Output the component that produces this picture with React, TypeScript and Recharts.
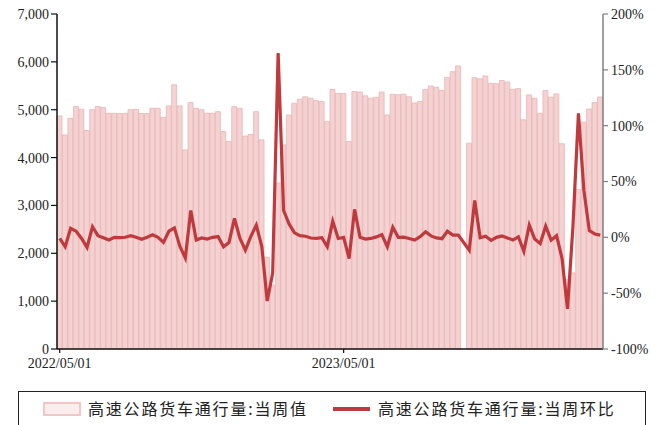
import { Bar, ComposedChart, Legend, Line, XAxis, YAxis } from "recharts";

// 高速公路货车通行量, weekly, 2022/05/01 onwards
const volume: (number | null)[] = [
  4870, 4470, 4820, 5065, 5010, 4565, 5000, 5065, 5045, 4925,
  4925, 4920, 4925, 5000, 5005, 4920, 4920, 5030, 5030, 4840,
  5080, 5520, 5080, 4160, 5150, 5030, 5000, 4925, 4925, 4960,
  4545, 4335, 5065, 5030, 4450, 4485, 4960, 4370, 1920, 1340,
  3470, 4265, 4890, 5135, 5220, 5270, 5240, 5190, 5170, 4750,
  5425, 5340, 5340, 4335, 5380, 5370, 5290, 5240, 5260, 5370,
  4890, 5320, 5315, 5325, 5270, 5140, 5170, 5425, 5495, 5470,
  5405, 5675, 5795, 5915, null, 4300, 5670, 5645, 5705, 5550,
  5545, 5610, 5580, 5425, 5440, 4790, 5310, 5240, 4925, 5400,
  5260, 5330, 4290, 1450, 1590, 3330, 4740, 5015, 5150, 5265,
];

// 当周环比, %
const wow: (number | null)[] = [
  -1, -8.5, 8, 5.5, -1, -9, 9.5, 1.5, -0.4, -2.4,
  0, -0.2, 0.1, 1.5, 0, -1.7, 0, 2.2, 0, -4.5,
  5.5, 8.5, -8, -18.5, 24, -2.4, -0.6, -1.5, 0, 0.7,
  -8.4, -4.6, 17, -0.7, -11.5, 0.8, 11, -8, -57, -32,
  165, 24, 12, 4, 1.5, 1, -0.6, -1, -0.4, -8.4,
  14.5, -1, 0, -19, 25, 0, -1.5, -1, 0.4, 2.5,
  -8.5, 9, 0, 0.2, -1, -2.4, 0.6, 5, 1.3, -0.5,
  -1.2, 5.5, 2, 2, null, -11.5, 33, -0.4, 1, -2.7,
  0, 1.2, -0.5, -2.4, 0.5, -12.5, 11, -1.5, -5.5, 10,
  -2.5, 1.5, -19, -64, 10, 111, 42, 6, 3, 2,
];

const xTicks = [0, 52];
const xTickLabels = ["2022/05/01", "2023/05/01"];
const leftTicks = [0, 1000, 2000, 3000, 4000, 5000, 6000, 7000];
const rightTicks = [-100, -50, 0, 50, 100, 150, 200];

const seriesNames = ["高速公路货车通行量:当周值", "高速公路货车通行量:当周环比"];

const data = volume.map((v, i) => ({ week: i, volume: v, wow: wow[i] }));

const serif = "'Liberation Serif', 'Times New Roman', serif";
const cjk = "'Noto Sans CJK SC', sans-serif";
const barFill = "#f4d2d2";
const barEdge = "#e9b5b5";
const lineColor = "#c0393c";

function LegendBox() {
  const text = { fontFamily: cjk, fontSize: 16, letterSpacing: 1.8, color: "#222" };
  return (
    <div
      style={{
        position: "absolute",
        left: 18,
        top: 391,
        width: 628,
        height: 60,
        border: "1.5px solid #222",
        boxSizing: "border-box",
      }}
    >
      <div style={{ position: "absolute", left: 24, top: 10, width: 34, height: 10, background: "#fbeded", border: "2px solid #f1c6c6" }} />
      <span style={{ ...text, position: "absolute", left: 69, top: 4, whiteSpace: "nowrap" }}>{seriesNames[0]}</span>
      <div style={{ position: "absolute", left: 314, top: 15, width: 37, height: 4, background: lineColor }} />
      <span style={{ ...text, position: "absolute", left: 359, top: 4, whiteSpace: "nowrap" }}>{seriesNames[1]}</span>
    </div>
  );
}

export default function App() {
  return (
    <div
      style={{
        position: "absolute",
        left: 0,
        top: 0,
        width: 664,
        height: 425,
        background: "#fff",
        overflow: "hidden",
      }}
    >
      <ComposedChart
        width={664}
        height={425}
        data={data}
        margin={{ top: 14, right: 0, bottom: 56, left: 0 }}
        barCategoryGap={0}
        barGap={0}
      >
        <XAxis
          dataKey="week"
          ticks={xTicks}
          interval={0}
          tickFormatter={(v) => xTickLabels[xTicks.indexOf(v)] ?? ""}
          height={20}
          tickSize={4}
          tickMargin={5}
          axisLine={{ stroke: "#111", strokeWidth: 1.5 }}
          tickLine={{ stroke: "#111", strokeWidth: 1.2 }}
          tick={{ fontSize: 14, fill: "#222", fontFamily: serif }}
        />
        <YAxis
          yAxisId="left"
          width={57}
          domain={[0, 7000]}
          ticks={leftTicks}
          interval={0}
          tickFormatter={(v) => v.toLocaleString("en-US")}
          tickSize={6}
          tickMargin={2}
          axisLine={{ stroke: "#111", strokeWidth: 1.5 }}
          tickLine={{ stroke: "#111", strokeWidth: 1.2 }}
          tick={{ fontSize: 14, fill: "#222", fontFamily: serif }}
        />
        <YAxis
          yAxisId="right"
          orientation="right"
          width={61}
          domain={[-100, 200]}
          ticks={rightTicks}
          interval={0}
          tickFormatter={(v) => `${v}%`}
          tickSize={5}
          tickMargin={3}
          axisLine={{ stroke: "#808080", strokeWidth: 1.5 }}
          tickLine={{ stroke: "#808080", strokeWidth: 1.2 }}
          tick={{ fontSize: 14, fill: "#222", fontFamily: serif }}
        />
        <Bar
          yAxisId="left"
          dataKey="volume"
          name={seriesNames[0]}
          fill={barFill}
          stroke={barEdge}
          strokeWidth={0.8}
          isAnimationActive={false}
        />
        <Line
          yAxisId="right"
          dataKey="wow"
          name={seriesNames[1]}
          type="linear"
          stroke={lineColor}
          strokeWidth={3.2}
          dot={false}
          activeDot={false}
          connectNulls
          isAnimationActive={false}
        />
        <Legend content={() => null} />
      </ComposedChart>
      <LegendBox />
    </div>
  );
}
